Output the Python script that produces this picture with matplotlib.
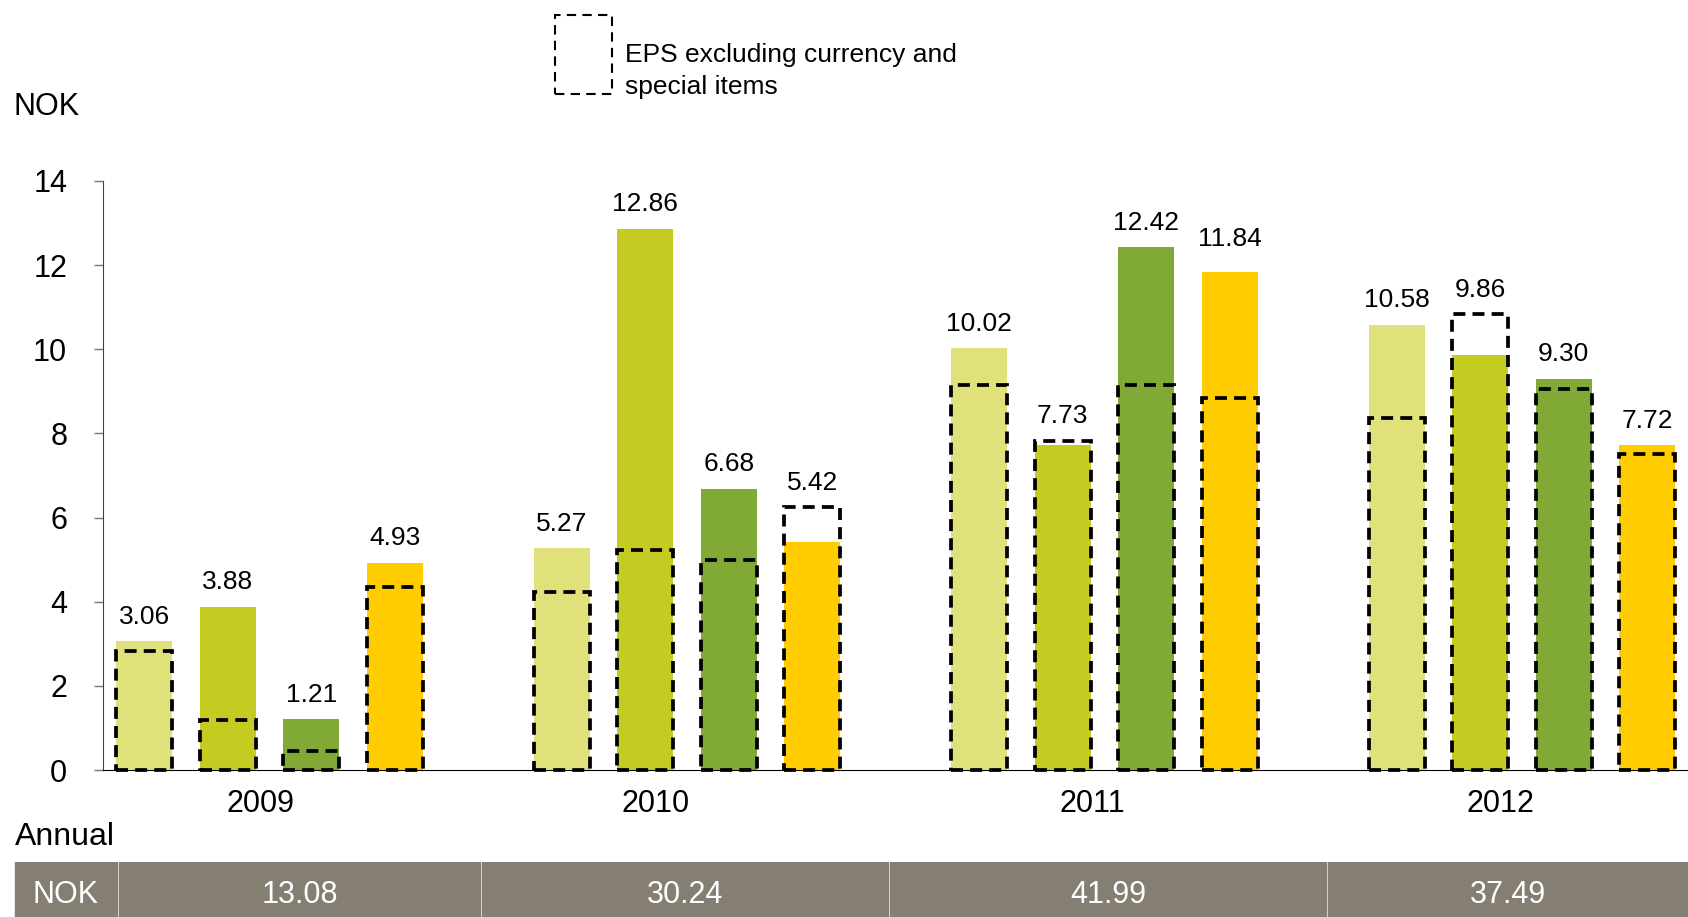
import matplotlib
matplotlib.use("Agg")
import matplotlib.pyplot as plt
from matplotlib.patches import Rectangle

plt.rcParams["font.family"] = ["Liberation Sans", "DejaVu Sans"]

# Data
years = ["2009", "2010", "2011", "2012"]
eps = [
    [3.06, 3.88, 1.21, 4.93],
    [5.27, 12.86, 6.68, 5.42],
    [10.02, 7.73, 12.42, 11.84],
    [10.58, 9.86, 9.30, 7.72],
]
eps_excl = [
    [2.82, 1.18, 0.46, 4.35],
    [4.22, 5.22, 4.99, 6.25],
    [9.16, 7.83, 9.16, 8.83],
    [8.37, 10.83, 9.06, 7.52],
]
annual_label = "NOK"
annual = ["13.08", "30.24", "41.99", "37.49"]

# Style
quarter_colors = ["#e0e17a", "#c4cc22", "#80a935", "#ffcc00"]
table_color = "#857e72"
dash = (0, (3.2, 1.9))
bar_w = 0.67
year_shift = [-0.11, -0.38, -0.14, -0.26]

fig = plt.figure(figsize=(16.88, 9.17), dpi=100)
ax = fig.add_axes([0.0608, 0.1603, 0.9392, 0.6424])

for g in range(len(years)):
    for q in range(4):
        x = g * 5 + q
        ax.bar(x, eps[g][q], width=bar_w, color=quarter_colors[q], zorder=2)
        ax.add_patch(Rectangle((x - bar_w / 2, 0), bar_w, eps_excl[g][q],
                               fill=False, edgecolor="black", lw=2.7,
                               linestyle=dash, zorder=3, clip_on=False))
        top = max(eps[g][q], eps_excl[g][q])
        # one label sits a little higher in the original
        extra = 6 if (g, q) == (2, 3) else 0
        ax.annotate(f"{eps[g][q]:.2f}", (x, top), xytext=(0, 9 + extra),
                    textcoords="offset points", ha="center", va="bottom",
                    fontsize=19)
    ax.text(g * 5 + 1.5 + year_shift[g], -0.0585, years[g],
            transform=ax.get_xaxis_transform(), ha="center", va="center",
            fontsize=22)

ax.set_xlim(-0.5, 18.49)
ax.set_ylim(0, 14)
ax.set_yticks(range(0, 15, 2))
ax.set_xticks([])
ax.tick_params(axis="y", labelsize=22, length=6.5, width=1, color="#777777", pad=19)
ax.spines["top"].set_visible(False)
ax.spines["right"].set_visible(False)
ax.spines["left"].set_color("#444444")
ax.spines["bottom"].set_color("black")

# Labels
fig.text(13 / 1688, 1 - 107 / 917, "NOK", fontsize=22, va="center", ha="left")
fig.text(15 / 1688, 1 - 837 / 917, "Annual", fontsize=23, va="center", ha="left")

# Legend
fig.add_artist(Rectangle((555 / 1688, 1 - 94 / 917), 57 / 1688, 79 / 917,
                         fill=False, edgecolor="black", lw=1.5,
                         linestyle=(0, (4.5, 3)), transform=fig.transFigure))
fig.text(625 / 1688, 1 - 71 / 917, "EPS excluding currency and\nspecial items",
         fontsize=19, va="center", ha="left", linespacing=1.38)

# Annual table
edges = [15, 118, 481, 889, 1327, 1688]
labels = [annual_label] + annual
tax = fig.add_axes([0, 0, 1, 55 / 917])
tax.set_xlim(0, 1688)
tax.set_ylim(0, 1)
tax.axis("off")
for i, lab in enumerate(labels):
    x0 = edges[i] + (1 if i > 0 else 0)
    x1 = edges[i + 1] - 1
    tax.add_patch(Rectangle((x0, 0), x1 - x0, 1, color=table_color))
    tax.text((x0 + x1) / 2, 0.40, lab, color="white", fontsize=22,
             ha="center", va="center")

fig.savefig("out.png", dpi=100)
